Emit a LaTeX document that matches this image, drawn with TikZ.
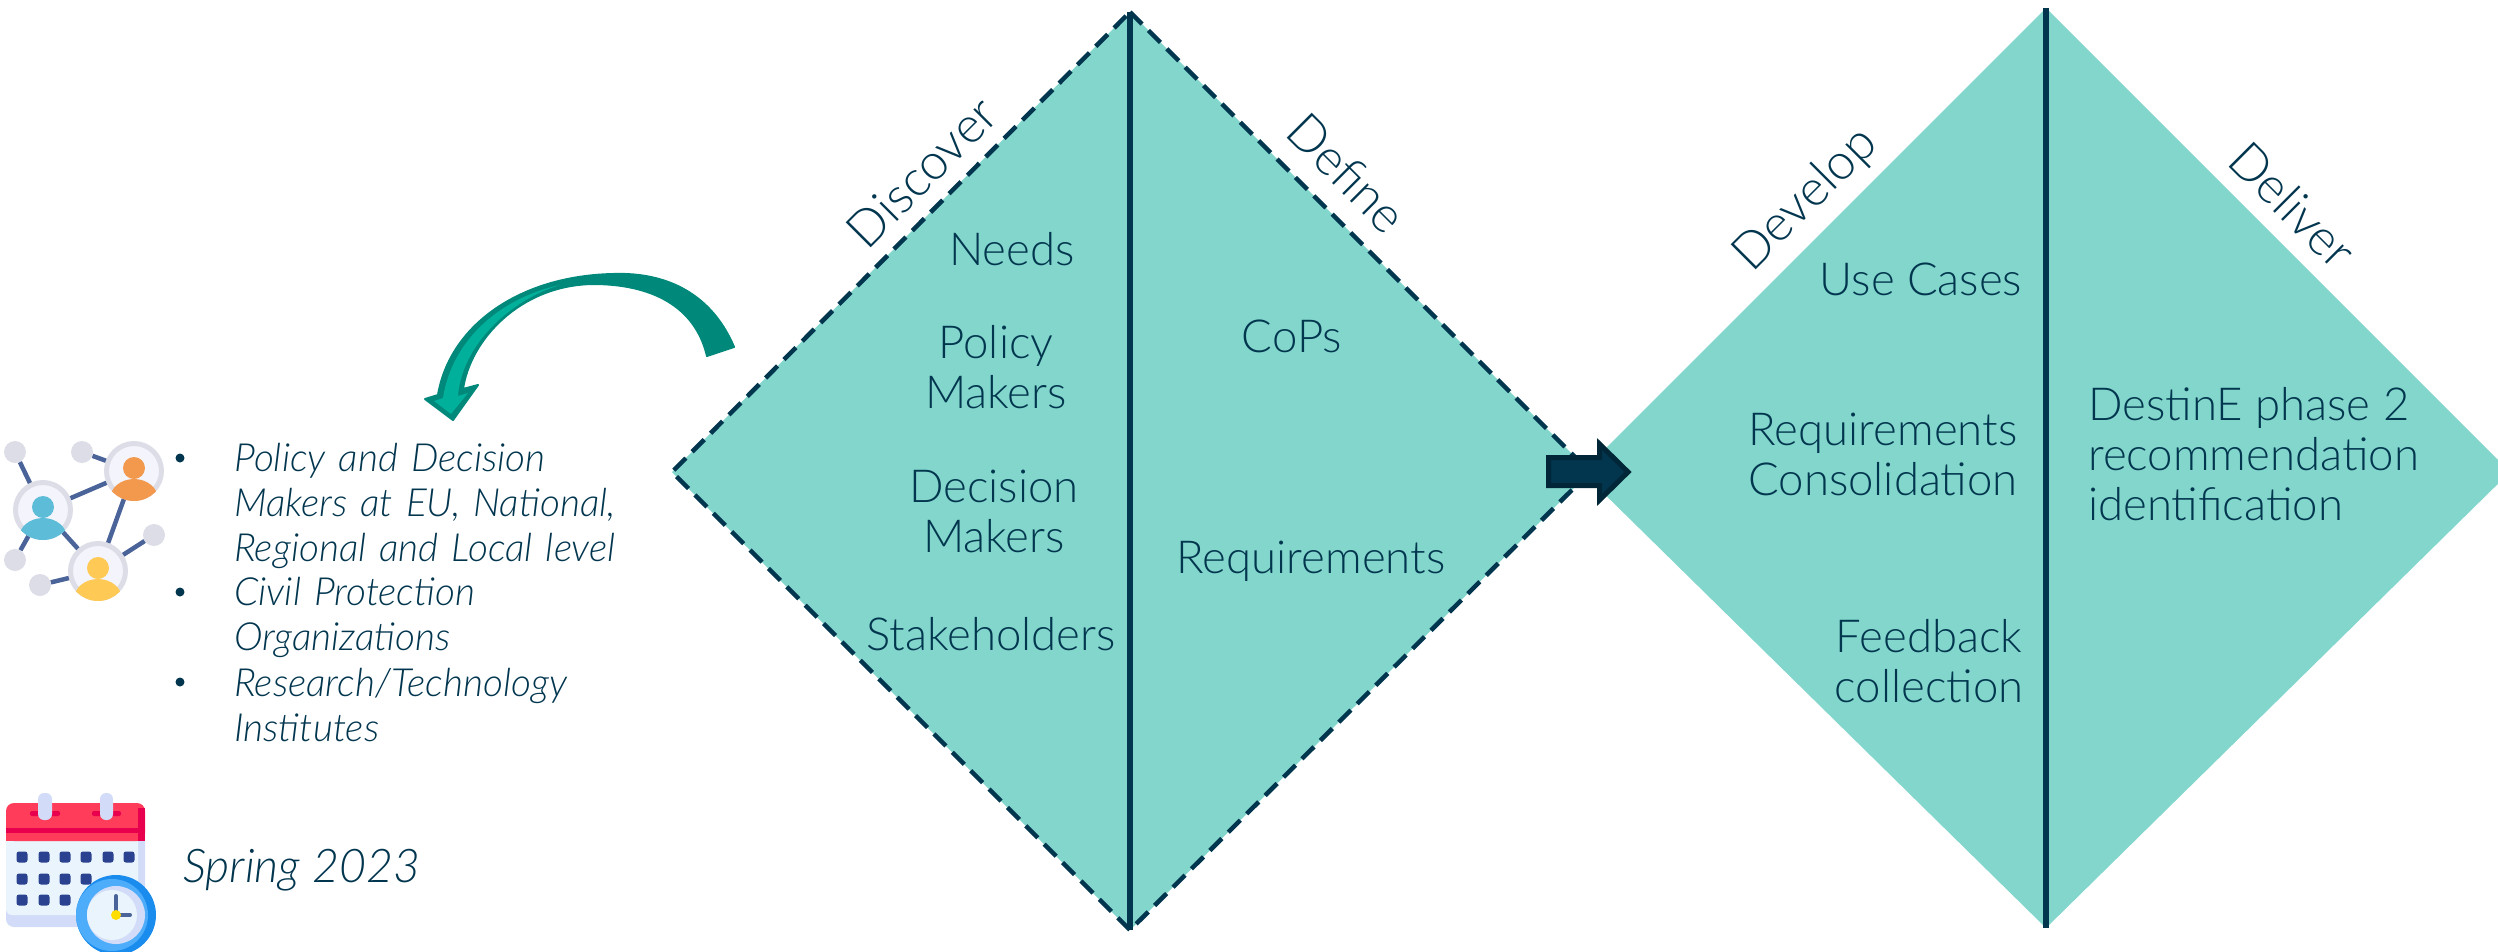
\documentclass[tikz,border=0pt]{standalone}
\usepackage{fontspec}
\setmainfont{Lato Light}[ItalicFont={Lato Light Italic}]
\usepackage{tikz}
\definecolor{navy}{HTML}{02364F}
\definecolor{mint}{HTML}{82D6CC}
\definecolor{tealdark}{HTML}{00897B}
\definecolor{teallight}{HTML}{00B09B}
\definecolor{ringgrey}{HTML}{DCDDE6}
\definecolor{ringin}{HTML}{F3F4FC}
\definecolor{linkblue}{HTML}{4A6399}
\definecolor{calred}{HTML}{FF3D5A}
\definecolor{calband}{HTML}{E8004F}
\definecolor{calbody}{HTML}{E9F4FC}
\definecolor{calside}{HTML}{D2DCF8}
\definecolor{caldot}{HTML}{2A4290}
\definecolor{clockblue}{HTML}{4DADFA}
\definecolor{clockdark}{HTML}{1A8CEE}
\definecolor{facecyan}{HTML}{5DBDD9}
\definecolor{faceorange}{HTML}{F2994D}
\definecolor{faceyellow}{HTML}{FFC955}
\tikzset{
	inlabel/.style={text=navy,font=\fontsize{45.5}{50}\selectfont,align=center,inner sep=0pt},
	sidelabel/.style={text=navy,font=\fontsize{50}{50}\selectfont,inner sep=0pt},
	listlabel/.style={text=navy,font=\itshape\fontsize{38.8}{45}\selectfont,align=left,inner sep=0pt,text width=420pt},
	dot/.style={circle,fill=navy,minimum size=9pt,inner sep=0pt},
	leaf/.style={circle,fill=ringgrey,minimum size=22pt,inner sep=0pt},
	member/.style={circle,draw=ringgrey,fill=ringin,line width=5pt,minimum size=55pt,inner sep=0pt},
	link/.style={linkblue,line width=4.5pt},
	rim/.style={navy,line width=4.5pt,dash pattern=on 17pt off 9pt},
	caldotbox/.style={fill=caldot,rounded corners=2.5pt}
}
\newcommand{\personicon}[2]{
	\fill[#2] (#1)++(0,-3) ellipse (11 and 11);
	\begin{scope}
		\clip (#1) circle (30);
		\fill[#2] (#1)++(0,28) ellipse (24 and 20);
	\end{scope}
}
\begin{document}
\begin{tikzpicture}[x=1pt,y=-1pt]
	\useasboundingbox (0,0) rectangle (2498,951);
	\fill[mint] (1130,12) coordinate (dTopA) -- (1590,472) coordinate (dRightA) -- (1130,930) coordinate (dBottomA) -- (672,472) coordinate (dLeftA) -- cycle;
	\draw[rim] (dTopA) -- (dRightA) -- (dBottomA) -- (dLeftA) -- cycle;
	\draw[navy,line width=6pt] (dTopA) -- (dBottomA);
	\begin{scope}
		\clip (0,0) rectangle (2498,951);
		\fill[mint] (2046,8) coordinate (dTopB) -- (2510,472) -- (2046,928) coordinate (dBottomB) -- (1582,472) -- cycle;
	\end{scope}
	\draw[navy,line width=6pt] (dTopB) -- (dBottomB);

	\draw (922,172) node[sidelabel,rotate=45] (discover) {Discover};
	\draw (1347,173) node[sidelabel,rotate=-45] (define) {Define};
	\draw (1806,200) node[sidelabel,rotate=45] (develop) {Develop};
	\draw (2293,205) node[sidelabel,rotate=-45] (deliver) {Deliver};

	\draw (1012,249) node[inlabel] (needs) {Needs};
	\draw (996,367) node[inlabel] (policy) {Policy\\Makers};
	\draw (994,511) node[inlabel] (decision) {Decision\\Makers};
	\draw (991,634) node[inlabel] (stakeholders) {Stakeholders};
	\draw (1292,336) node[inlabel] (cops) {CoPs};
	\draw (1311,561) node[inlabel] (requirements) {Requirements};
	\draw (1921,279) node[inlabel] (usecases) {Use Cases};
	\draw (1883,454) node[inlabel] (consolidation) {Requirements\\Consolidation};
	\draw (1929,661) node[inlabel] (feedback) {Feedback\\collection};
	\draw (2088,454.5) node[inlabel,anchor=west,align=left] (destine) {DestinE phase 2\\recommendation\\identification};

	\draw[fill=navy,draw=black!30!navy,line width=5pt,line join=miter] (1548.5,457.5) -- (1599.5,457.5) -- (1599.5,444) -- (1628,472) -- (1599.5,500) -- (1599.5,485.5) -- (1548.5,485.5) -- cycle;

	\draw[fill=tealdark,draw=tealdark,line width=2pt,line join=round] (734,347) .. controls (712,295) and (668,272) .. (613,274) .. controls (520,276) and (450,325) .. (438,395) -- (425,399) -- (453,420) -- (478,385) -- (463,389) .. controls (470,340) and (520,285) .. (593,284) .. controls (650,284) and (695,305) .. (707,356) -- cycle;
	\fill[teallight] (560,285) .. controls (500,298) and (452,340) .. (443,398) -- (434,401) -- (451,414) -- (468,393) -- (458,396) .. controls (462,345) and (510,300) .. (560,285) -- cycle;

	\draw (15,452) node[leaf] (leafA) {};
	\draw (82,452) node[leaf] (leafB) {};
	\draw (15,560) node[leaf] (leafC) {};
	\draw (40,585) node[leaf] (leafD) {};
	\draw (154,535) node[leaf] (leafE) {};
	\draw (43,510) node[member] (blue) {};
	\draw (134,471) node[member] (orange) {};
	\draw (98,571) node[member] (yellow) {};
	\draw[link] (leafA) -- (blue);
	\draw[link] (leafB) -- (orange);
	\draw[link] (leafC) -- (blue);
	\draw[link] (leafD) -- (yellow);
	\draw[link] (leafE) -- (yellow);
	\draw[link] (blue) -- (orange);
	\draw[link] (blue) -- (yellow);
	\draw[link] (orange) -- (yellow);
	\personicon{blue}{facecyan}
	\personicon{orange}{faceorange}
	\personicon{yellow}{faceyellow}

	\draw (180,458) node[dot] (dotA) {};
	\draw (180,592) node[dot] (dotB) {};
	\draw (180,682) node[dot] (dotC) {};
	\draw (234,505.5) node[listlabel,anchor=west] (groupA) {Policy and Decision\\Makers at EU, National,\\Regional and Local level};
	\draw (234,617.5) node[listlabel,anchor=west] (groupB) {Civil Protection\\Organizations};
	\draw (234,705) node[listlabel,anchor=west] (groupC) {Research/Technology\\Institutes};

	\fill[calside,rounded corners=8pt] (6,820) rectangle (145,927);
	\fill[calbody,rounded corners=6pt] (6,820) rectangle (138,915);
	\fill[calred,rounded corners=8pt] (6,803) rectangle (145,841);
	\fill[calred] (6,820) rectangle (145,841);
	\fill[calband] (6,828) rectangle (145,833);
	\fill[calband] (138,808) rectangle (145,841);
	\fill[calband,rounded corners=2pt] (30,811) rectangle (60,816);
	\fill[calband,rounded corners=2pt] (92,811) rectangle (121,816);
	\fill[calside,rounded corners=6pt] (38,793) rectangle (52,820);
	\fill[calside,rounded corners=6pt] (100,793) rectangle (113,820);
	\foreach \xa in {22,44,65,86,108,129} {
		\fill[caldotbox] (\xa-5.5,851.5) rectangle (\xa+5.5,862.5);
	}
	\foreach \xa in {22,44,65,86} {
		\fill[caldotbox] (\xa-5.5,873.5) rectangle (\xa+5.5,884.5);
	}
	\foreach \xa in {22,44,65} {
		\fill[caldotbox] (\xa-5.5,894.5) rectangle (\xa+5.5,905.5);
	}
	\fill[clockdark] (116,915) circle (40);
	\fill[clockblue] (112,915) circle (36);
	\fill[calside] (116,915) circle (29);
	\fill[calbody] (112,915) circle (25);
	\draw[linkblue,line width=4pt,line cap=round] (116,896) -- (116,915) -- (130,915);
	\fill[yellow!80!orange] (116,915) circle (5);
	\draw (183,870) node[anchor=west,text=navy,font=\itshape\fontsize{46.5}{50}\selectfont,inner sep=0pt] (season) {Spring 2023};
\end{tikzpicture}
\end{document}
